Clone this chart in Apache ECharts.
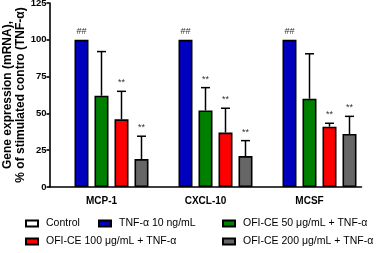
<!DOCTYPE html>
<html>
<head>
<meta charset="utf-8">
<script src="https://cdn.jsdelivr.net/npm/echarts@6/dist/echarts.min.js"></script>
<style>html,body{margin:0;padding:0;background:#fff;}#c{width:380px;height:253px;}</style>
</head>
<body>
<div id="c"></div>
<script>
const categories = ['MCP-1', 'CXCL-10', 'MCSF'];
const seriesNames = ['Control', 'TNF-α 10 ng/mL', 'OFI-CE 50 μg/mL + TNF-α', 'OFI-CE 100 μg/mL + TNF-α', 'OFI-CE 200 μg/mL + TNF-α'];
const control = [null, null, null];
const tnf = [100, 100, 100];
const ofi50 = [62, 52, 60];
const ofi100 = [46, 37, 41];
const ofi200 = [19, 21, 36];
const controlSd = [null, null, null];
const tnfSd = [0, 0, 0];
const ofi50Sd = [30, 15.5, 30.5];
const ofi100Sd = [19, 16.5, 2.3];
const ofi200Sd = [15.5, 10.5, 12];
const controlMark = ['', '', ''];
const tnfMark = ['##', '##', '##'];
const ofi50Mark = ['', '**', ''];
const ofi100Mark = ['**', '**', '**'];
const ofi200Mark = ['**', '**', '**'];
const yTicks = [0, 25, 50, 75, 100, 125];

const values = [control, tnf, ofi50, ofi100, ofi200];
const sds = [controlSd, tnfSd, ofi50Sd, ofi100Sd, ofi200Sd];
const marks = [controlMark, tnfMark, ofi50Mark, ofi100Mark, ofi200Mark];
const colors = ['#ffffff', '#0000bf', '#008000', '#ff0000', '#666666'];

const BAR_W = 14, PITCH = 20;

const bars = values.map((v, i) => ({
  name: seriesNames[i],
  type: 'bar',
  data: v,
  barWidth: BAR_W,
  barGap: ((PITCH - BAR_W) / BAR_W * 100).toFixed(2) + '%',
  barCategoryGap: '8%',
  itemStyle: { color: colors[i], borderColor: '#000', borderWidth: 1.6 },
  silent: true
}));

const errData = [];
values.forEach((v, i) => {
  v.forEach((val, c) => {
    if (val === null) return;
    errData.push([c, i, val, sds[i][c], marks[i][c]]);
  });
});

const errSeries = {
  type: 'custom',
  data: errData,
  z: 10,
  renderItem: function (params, api) {
    const c = api.value(0), i = api.value(1), val = api.value(2), sd = api.value(3);
    const mark = errData[params.dataIndex][4];
    const base = api.coord([c, val]);
    const top = api.coord([c, val + sd]);
    const x = base[0] + (i - 2) * PITCH;
    const children = [];
    if (sd > 0) {
      children.push({ type: 'line', shape: { x1: x, y1: base[1], x2: x, y2: top[1] }, style: { stroke: '#000', lineWidth: 1.5 } });
      children.push({ type: 'line', shape: { x1: x - 4.5, y1: top[1], x2: x + 4.5, y2: top[1] }, style: { stroke: '#000', lineWidth: 1.5 } });
    }
    if (mark) {
      children.push({ type: 'text', style: { text: mark, x: x, y: top[1] - 4, align: 'center', verticalAlign: 'bottom', fontSize: 9, fontFamily: 'Liberation Sans, Arial', fill: '#333' } });
    }
    return { type: 'group', children: children };
  }
};

const legendPos = [[25, 218], [98, 218], [222, 218], [25, 236], [222, 236]];
const legends = seriesNames.map((n, i) => ({
  data: [n],
  left: legendPos[i][0],
  top: legendPos[i][1],
  icon: 'rect',
  itemWidth: 12,
  itemHeight: 6,
  padding: 0,
  selectedMode: false,
  textStyle: { fontSize: 10.5, fontFamily: 'Liberation Sans, Arial', color: '#000', padding: [0, 0, 0, 3] }
}));

const chart = echarts.init(document.getElementById('c'), null, { renderer: 'canvas' });
chart.setOption({
  animation: false,
  backgroundColor: '#fff',
  grid: { left: 49.5, top: 3, width: 312, height: 184, containLabel: false, outerBoundsMode: 'none' },
  legend: legends,
  xAxis: {
    type: 'category',
    data: categories,
    axisLine: { lineStyle: { color: '#000', width: 1.6 } },
    axisTick: { alignWithLabel: true, length: 4, lineStyle: { color: '#000', width: 1.6 } },
    axisLabel: { margin: 9, fontSize: 10, fontWeight: 'bold', color: '#000', fontFamily: 'Liberation Sans, Arial' }
  },
  yAxis: {
    type: 'value',
    min: yTicks[0],
    max: yTicks[yTicks.length - 1],
    interval: yTicks[1] - yTicks[0],
    splitLine: { show: false },
    axisLine: { show: true, lineStyle: { color: '#000', width: 1.6 } },
    axisTick: { show: true, length: 3, lineStyle: { color: '#000', width: 1.6 } },
    axisLabel: { margin: 3, fontSize: 9.5, fontWeight: 'bold', color: '#000', fontFamily: 'Liberation Sans, Arial' },
    name: 'Gene expression (mRNA),\n% of stimulated contro (TNF-α)',
    nameLocation: 'middle',
    nameRotate: 90,
    nameGap: 22,
    nameMoveOverlap: false,
    nameTextStyle: { fontSize: 12, fontWeight: 'bold', color: '#000', lineHeight: 13, fontFamily: 'Liberation Sans, Arial' }
  },
  series: bars.concat([errSeries])
});
</script>
</body>
</html>
